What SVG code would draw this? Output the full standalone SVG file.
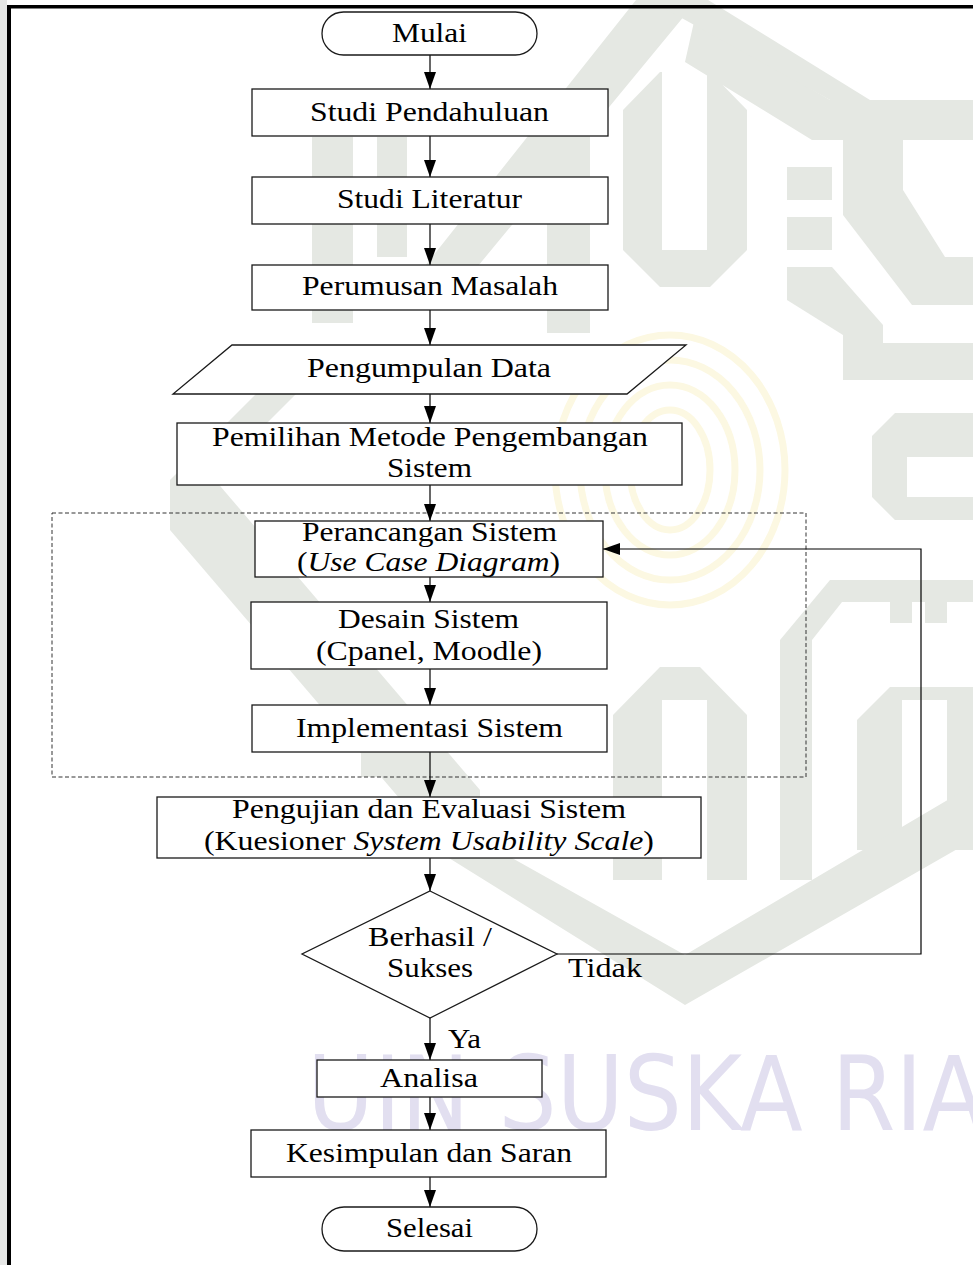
<svg xmlns="http://www.w3.org/2000/svg" width="973" height="1265" viewBox="0 0 973 1265">
<defs>
<style>
.box{fill:#fff;stroke:#1a1a1a;stroke-width:1.3}
.t{font-family:"Liberation Serif","Times New Roman",serif;font-size:27px;fill:#000}
.wm{fill:#e5e8e3}
.ring{fill:none;stroke:#fcf8e2;stroke-width:7}
.c{fill:none;stroke:#000;stroke-width:1.2}
</style>
<marker id="ah" markerUnits="userSpaceOnUse" markerWidth="17" markerHeight="12" refX="17" refY="6" orient="auto">
<path d="M0,0 L17,6 L0,12 Z" fill="#000"/>
</marker>
</defs>
<rect x="0" y="0" width="973" height="1265" fill="#fff"/>
<g id="watermark">
<g class="ring">
<ellipse cx="670" cy="470" rx="40" ry="60"/>
<ellipse cx="670" cy="470" rx="65" ry="85"/>
<ellipse cx="670" cy="470" rx="90" ry="110"/>
<ellipse cx="670" cy="470" rx="115" ry="135"/>
</g>
<g class="wm">
<polygon points="398,300 450,300 685,15 830,100 973,100 973,140 812,140 685,62 700,-5 640,-5"/>
<polygon points="640,-5 700,-5 870,100 830,100"/>
<rect x="547" y="100" width="43" height="233"/>
<path d="M623,110 L660,72 L662,72 L662,250 L707,250 L707,72 L710,72 L747,110 L747,250 L710,287 L660,287 L623,250 Z"/>
<rect x="787" y="167" width="45" height="33"/>
<rect x="787" y="217" width="45" height="33"/>
<polygon points="787,267 832,267 883,325 883,380 843,380 843,335 787,300"/>
<polygon points="843,140 903,140 903,190 945,257 973,257 973,305 912,305 843,215"/>
<rect x="843" y="343" width="130" height="37"/>
<path d="M895,413 L973,413 L973,457 L907,457 L907,497 L973,497 L973,520 L895,520 L872,497 L872,436 Z"/>
<rect x="312" y="137" width="41" height="186"/>
<rect x="377" y="137" width="30" height="120"/>
<polygon points="300,350 340,350 210,480 170,480"/>
<polygon points="170,480 215,480 480,790 480,840 435,840 170,530"/>
<rect x="361" y="697" width="39" height="80"/>
<path d="M613,715 L660,667 L700,667 L747,715 L747,880 L707,880 L707,700 L662,700 L662,880 L613,880 Z"/>
<path d="M780,880 L780,640 L830,580 L973,580 L973,602 L842,602 L812,640 L812,880 Z"/>
<rect x="890" y="593" width="22" height="30"/>
<rect x="925" y="593" width="22" height="30"/>
<path d="M857,720 L890,687 L973,687 L973,850 L947,850 L947,700 L902,700 L902,850 L857,850 Z"/>
<polygon points="420,840 480,840 685,955 973,785 973,840 685,1005"/>
</g>
<text x="307" y="1130" textLength="678" lengthAdjust="spacingAndGlyphs" style="font-family:'Liberation Sans Narrow','DejaVu Sans Condensed','Liberation Sans',sans-serif;font-size:104px;fill:#e2dff0">UIN SUSKA RIA</text>
</g>
<g id="frame">
<rect x="0" y="0" width="7" height="1265" fill="#e6e7e6"/>
<rect x="7" y="5" width="966" height="3.5" fill="#000"/>
<rect x="7" y="5" width="4" height="1260" fill="#000"/>
</g>
<rect id="group-box" x="52" y="513" width="754" height="264" fill="none" stroke="#333" stroke-width="1" stroke-dasharray="4,2.5"/>
<g id="connectors" class="c">
<line x1="430" y1="55" x2="430" y2="89" marker-end="url(#ah)"/>
<line x1="430" y1="136" x2="430" y2="177" marker-end="url(#ah)"/>
<line x1="430" y1="224" x2="430" y2="265" marker-end="url(#ah)"/>
<line x1="430" y1="310" x2="430" y2="345" marker-end="url(#ah)"/>
<line x1="430" y1="394" x2="430" y2="423" marker-end="url(#ah)"/>
<line x1="430" y1="485" x2="430" y2="521" marker-end="url(#ah)"/>
<line x1="430" y1="577" x2="430" y2="602" marker-end="url(#ah)"/>
<line x1="430" y1="669" x2="430" y2="705" marker-end="url(#ah)"/>
<line x1="430" y1="752" x2="430" y2="797" marker-end="url(#ah)"/>
<line x1="430" y1="858" x2="430" y2="891" marker-end="url(#ah)"/>
<line x1="430" y1="1018" x2="430" y2="1060" marker-end="url(#ah)"/>
<line x1="430" y1="1097" x2="430" y2="1130" marker-end="url(#ah)"/>
<line x1="430" y1="1177" x2="430" y2="1207" marker-end="url(#ah)"/>
<polyline points="557,954 921,954 921,549 603,549" marker-end="url(#ah)"/>
</g>
<g id="mulai"><rect class="box" x="322" y="12" width="215" height="43" rx="21.5"/><text class="t" x="392" y="42" textLength="75" lengthAdjust="spacingAndGlyphs">Mulai</text></g>
<g id="studi-pendahuluan"><rect class="box" x="252" y="89" width="356" height="47"/><text class="t" x="310" y="121" textLength="239" lengthAdjust="spacingAndGlyphs">Studi Pendahuluan</text></g>
<g id="studi-literatur"><rect class="box" x="252" y="177" width="356" height="47"/><text class="t" x="337" y="208" textLength="185" lengthAdjust="spacingAndGlyphs">Studi Literatur</text></g>
<g id="perumusan-masalah"><rect class="box" x="252" y="265" width="356" height="45"/><text class="t" x="302" y="295" textLength="256" lengthAdjust="spacingAndGlyphs">Perumusan Masalah</text></g>
<g id="pengumpulan-data"><polygon class="box" points="232,345 686,345 627,394 173,394"/><text class="t" x="307" y="377" textLength="244" lengthAdjust="spacingAndGlyphs">Pengumpulan Data</text></g>
<g id="pemilihan-metode"><rect class="box" x="177" y="423" width="505" height="62"/><text class="t" x="212" y="446" textLength="436" lengthAdjust="spacingAndGlyphs">Pemilihan Metode Pengembangan</text><text class="t" x="387" y="477" textLength="85" lengthAdjust="spacingAndGlyphs">Sistem</text></g>
<g id="perancangan-sistem"><rect class="box" x="255" y="521" width="348" height="56"/><text class="t" x="302" y="541" textLength="255" lengthAdjust="spacingAndGlyphs">Perancangan Sistem</text><text class="t" x="297" y="571" textLength="263" lengthAdjust="spacingAndGlyphs">(<tspan font-style="italic">Use Case Diagram</tspan>)</text></g>
<g id="desain-sistem"><rect class="box" x="251" y="602" width="356" height="67"/><text class="t" x="338" y="628" textLength="181" lengthAdjust="spacingAndGlyphs">Desain Sistem</text><text class="t" x="316" y="660" textLength="226" lengthAdjust="spacingAndGlyphs">(Cpanel, Moodle)</text></g>
<g id="implementasi-sistem"><rect class="box" x="252" y="705" width="355" height="47"/><text class="t" x="296" y="737" textLength="267" lengthAdjust="spacingAndGlyphs">Implementasi Sistem</text></g>
<g id="pengujian-evaluasi"><rect class="box" x="157" y="797" width="544" height="61"/><text class="t" x="232" y="818" textLength="394" lengthAdjust="spacingAndGlyphs">Pengujian dan Evaluasi Sistem</text><text class="t" x="204" y="850" textLength="450" lengthAdjust="spacingAndGlyphs">(Kuesioner <tspan font-style="italic">System Usability Scale</tspan>)</text></g>
<g id="berhasil-sukses"><polygon class="box" points="430,891 557,954 430,1018 302,954"/><text class="t" x="368" y="946" textLength="124" lengthAdjust="spacingAndGlyphs">Berhasil /</text><text class="t" x="387" y="977" textLength="86" lengthAdjust="spacingAndGlyphs">Sukses</text></g>
<g id="labels"><text class="t" x="568" y="977" textLength="74" lengthAdjust="spacingAndGlyphs">Tidak</text><text class="t" x="448" y="1048" textLength="33" lengthAdjust="spacingAndGlyphs">Ya</text></g>
<g id="analisa"><rect class="box" x="317" y="1060" width="225" height="37"/><text class="t" x="380" y="1087" textLength="98" lengthAdjust="spacingAndGlyphs">Analisa</text></g>
<g id="kesimpulan-saran"><rect class="box" x="251" y="1130" width="355" height="47"/><text class="t" x="286" y="1162" textLength="286" lengthAdjust="spacingAndGlyphs">Kesimpulan dan Saran</text></g>
<g id="selesai"><rect class="box" x="322" y="1207" width="215" height="44" rx="22"/><text class="t" x="386" y="1237" textLength="87" lengthAdjust="spacingAndGlyphs">Selesai</text></g>
</svg>
